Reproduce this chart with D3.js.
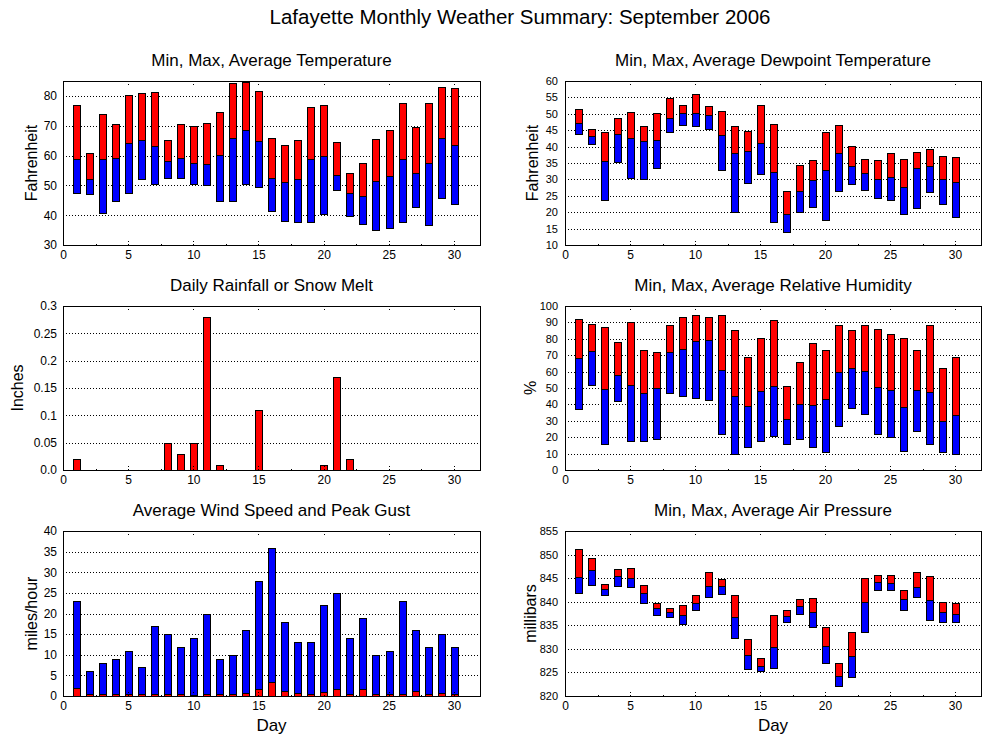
<!DOCTYPE html>
<html>
<head>
<meta charset="utf-8">
<script src="https://cdn.jsdelivr.net/npm/d3@7"></script>
<style>
  body { margin: 0; background: #fff; }
  text { font-family: "Liberation Sans", Arial, sans-serif; fill: #000; }
</style>
</head>
<body>
<svg width="1000" height="750"></svg>
<script>
const days = [1,2,3,4,5,6,7,8,9,10,11,12,13,14,15,16,17,18,19,20,21,22,23,24,25,26,27,28,29,30];
const xTicks = [0,5,10,15,20,25,30];

const tempMax = [77,60.7,74,70.7,80.4,81,81.4,65.3,70.7,70,71,74.7,84.4,84.7,81.7,66,63.7,65.3,76.4,77,64.7,54.3,57.6,65.7,68.4,77.7,69.7,77.7,83,82.7];
const tempAvg = [59,52.3,59,59.3,64.3,65.1,63.3,58.3,59.3,57.6,57.3,60.3,66,68.4,65,52.6,51,52.3,58.7,59.7,53.6,47.3,46.3,51.3,53,59,54.3,57.6,66,63.7];
const tempMin = [47.3,47,40.6,44.6,47.6,52.3,50.3,52.6,52.6,50.3,50,44.6,44.9,50.3,49.6,41.3,38.2,37.6,37.6,40.3,48.6,39.6,36.9,34.9,35.6,37.6,42.6,36.6,45.9,43.6];

const dewMax = [51.6,45.5,44.3,48.8,50.4,46.4,50.1,54.9,52.8,56.1,52.5,51,46.4,44.9,52.8,47,26.6,34.5,35.8,44.6,46.7,40.3,36.1,35.8,38.2,36.1,38.5,39.4,37,36.7];
const dewAvg = [47.3,43.1,35.5,43.7,42.5,41.8,42.1,48.8,50.1,50.1,49.5,43.4,37.9,38.8,41.2,32.4,19.6,26.6,29.7,33,37.9,34.2,31.8,30,30.6,27.8,33.6,34.2,30,29.1];
const dewMin = [43.7,40.9,23.6,35.2,30.3,30,33.6,44.3,46.7,46.4,45.5,33,20.2,28.8,31.5,16.9,13.9,20.2,21.5,17.5,26.6,28.5,26.9,24.2,23.6,19.3,21.2,26.3,22.4,18.4];

const rain = [0.02,0,0,0,0,0,0,0.05,0.03,0.05,0.28,0.01,0,0,0.11,0,0,0,0,0.01,0.17,0.02,0,0,0,0,0,0,0,0];
const rainTicks = [0,0.05,0.1,0.15,0.2,0.25,0.3];
const rainTickLabels = ["0.0","0.05","0.1","0.15","0.2","0.25","0.3"];

const humMax = [91.9,88.8,87,77.8,90,73,71.7,88.2,93.1,94.3,93.1,94.3,85.2,68.7,80.3,91.3,51,65.7,77.2,73,88.2,85.2,88.2,85.8,82.7,80.3,73,88.2,62,68.7];
const humAvg = [68.1,72.4,49.2,57.7,51.6,46.7,49.8,71.7,73.6,78.5,79.1,60.8,44.9,38.8,48,51,30.9,40,39.4,43.1,59.6,62,60.2,50.4,48.6,38.2,48.6,47.4,29.7,33.3];
const humMin = [37,51.6,15.7,41.9,17.5,17.5,18.7,46.7,44.9,43.7,42.5,21.7,9.6,13.8,17.5,20.5,15.7,18.7,13.8,10.8,26.6,37.6,33.9,21.7,19.9,11.4,23.6,15.7,10.8,9.6];

const windGust = [23,6,8,9,11,7,17,15,12,14,20,9,10,16,28,36,18,13,13,22,25,14,19,10,11,23,16,12,15,12];
const windAvg = [1.9,0.4,0.4,0.6,0.4,0.4,0.6,0.4,0.4,0.2,0.6,0.4,0.4,0.8,1.6,3.5,1.3,0.8,0.6,1,1.6,0.4,1.8,0.6,0.6,0.6,1.3,0.4,0.8,0.4];

const presMax = [851.1,849.2,843.7,846.9,847.1,843.5,839.7,838.6,839.2,841.4,846.4,844.8,841.4,832,828,837.1,838.2,840.5,840.7,834.6,826.9,833.5,845,845.6,845.6,842.4,846.4,845.4,839.9,839.7];
const presAvg = [845.2,846.7,842.8,845.4,845,841.8,838.6,837.8,837.1,839.7,843.3,843.3,836.7,828.6,826.3,830.3,836.9,839,837.8,830.7,824.2,828.4,839.9,844.1,843.9,840.5,843.1,840.3,837.8,837.5];
const presMin = [841.8,843.5,841.4,843.3,843.1,839.7,837.1,836.7,835.2,838.2,841.1,841.6,832.2,825.7,825.2,825.9,835.6,837.5,834.6,827.1,822.1,824,833.5,842.4,842.4,838.2,841.1,836.1,835.8,835.6];

const svg = d3.select("svg");

svg.append("text")
  .attr("x", 520).attr("y", 24)
  .attr("text-anchor", "middle")
  .attr("font-size", 20.5)
  .text("Lafayette Monthly Weather Summary: September 2006");

const cols = [[63, 480], [565, 981]];
const rows = [[81, 245], [306, 470], [531, 696]];

function panel(opt) {
  const [x0, x1] = cols[opt.col];
  const [y0, y1] = rows[opt.row];
  const g = svg.append("g");

  const x = d3.scaleLinear().domain([0, 32]).range([x0, x1]);
  const y = d3.scaleLinear().domain(opt.domain).range([y1, y0]);
  const bw = x(0.5) - x(0);

  // title
  g.append("text")
    .attr("x", (x0 + x1) / 2).attr("y", y0 - 15)
    .attr("text-anchor", "middle")
    .attr("font-size", 17)
    .text(opt.title);

  // y grid
  g.selectAll(".grid")
    .data(opt.yTicks.filter(t => t > opt.domain[0] && t < opt.domain[1]))
    .enter().append("line")
    .attr("x1", x0).attr("x2", x1)
    .attr("y1", d => Math.round(y(d)) + 0.5).attr("y2", d => Math.round(y(d)) + 0.5)
    .attr("stroke", "#000")
    .attr("stroke-dasharray", "1,2");

  // bars
  opt.bars(g, x, y, bw);

  // x ticks (dotted, inside frame, top and bottom)
  const minor = [2.5,7.5,12.5,17.5,22.5,27.5];
  [[xTicks, 6], [minor, 2]].forEach(([ticks, len]) => {
    ticks.forEach(t => {
      const px = Math.round(x(t)) + 0.5;
      g.append("line").attr("x1", px).attr("x2", px).attr("y1", y1).attr("y2", y1 - len)
        .attr("stroke", "#000").attr("stroke-dasharray", "1,2");
      g.append("line").attr("x1", px).attr("x2", px).attr("y1", y0).attr("y2", y0 + len)
        .attr("stroke", "#000").attr("stroke-dasharray", "1,2");
    });
  });

  // frame
  g.append("rect")
    .attr("x", x0 + 0.5).attr("y", y0 + 0.5)
    .attr("width", x1 - x0).attr("height", y1 - y0)
    .attr("fill", "none").attr("stroke", "#000");

  // x tick labels
  const xAxis = g.append("g").attr("transform", `translate(0,${y1})`)
    .call(d3.axisBottom(x).tickValues(xTicks).tickSize(0).tickPadding(5));
  xAxis.select(".domain").remove();
  xAxis.selectAll("text").attr("font-size", 12).attr("font-family", null);

  // y tick labels
  const yAxis = g.append("g").attr("transform", `translate(${x0},0)`)
    .call(d3.axisLeft(y).tickValues(opt.yTicks).tickSize(0).tickPadding(opt.col ? 7 : 6)
      .tickFormat((d, i) => opt.yLabels ? opt.yLabels[i] : d));
  yAxis.select(".domain").remove();
  yAxis.selectAll("text").attr("font-size", opt.col ? 11 : 12).attr("font-family", null);

  // y label
  g.append("text")
    .attr("transform", `translate(${opt.ylabX},${(y0 + y1) / 2}) rotate(-90)`)
    .attr("text-anchor", "middle")
    .attr("dy", "0.35em")
    .attr("font-size", 16)
    .text(opt.ylabel);

  if (opt.row === 2) {
    g.append("text")
      .attr("x", (x0 + x1) / 2).attr("y", 731)
      .attr("text-anchor", "middle")
      .attr("font-size", 17)
      .text("Day");
  }
}

function rangeBars(maxArr, avgArr, minArr) {
  return (g, x, y, bw) => {
    g.selectAll(".hi").data(days).enter().append("rect")
      .attr("x", d => Math.round(x(d) - bw / 2) + 0.5)
      .attr("width", Math.round(bw))
      .attr("y", (d, i) => Math.round(y(maxArr[i])) + 0.5)
      .attr("height", (d, i) => Math.round(y(avgArr[i])) - Math.round(y(maxArr[i])))
      .attr("fill", "#ff0000").attr("stroke", "#000");
    g.selectAll(".lo").data(days).enter().append("rect")
      .attr("x", d => Math.round(x(d) - bw / 2) + 0.5)
      .attr("width", Math.round(bw))
      .attr("y", (d, i) => Math.round(y(avgArr[i])) + 0.5)
      .attr("height", (d, i) => Math.round(y(minArr[i])) - Math.round(y(avgArr[i])))
      .attr("fill", "#0000ff").attr("stroke", "#000");
  };
}

function zeroBars(arr, color, g, x, y, bw) {
  g.selectAll(null).data(days.filter((d, i) => arr[i] > 0)).enter().append("rect")
    .attr("x", d => Math.round(x(d) - bw / 2) + 0.5)
    .attr("width", Math.round(bw))
    .attr("y", d => Math.round(y(arr[d - 1])) + 0.5)
    .attr("height", d => Math.round(y(0)) - Math.round(y(arr[d - 1])))
    .attr("fill", color).attr("stroke", "#000");
}

panel({
  col: 0, row: 0, domain: [30, 85], yTicks: [30,40,50,60,70,80],
  title: "Min, Max, Average Temperature", ylabel: "Fahrenheit", ylabX: 31,
  bars: rangeBars(tempMax, tempAvg, tempMin)
});

panel({
  col: 1, row: 0, domain: [10, 60], yTicks: [10,15,20,25,30,35,40,45,50,55,60],
  title: "Min, Max, Average Dewpoint Temperature", ylabel: "Fahrenheit", ylabX: 532,
  bars: rangeBars(dewMax, dewAvg, dewMin)
});

panel({
  col: 0, row: 1, domain: [0, 0.3], yTicks: rainTicks, yLabels: rainTickLabels,
  title: "Daily Rainfall or Snow Melt", ylabel: "Inches", ylabX: 17,
  bars: (g, x, y, bw) => zeroBars(rain, "#ff0000", g, x, y, bw)
});

panel({
  col: 1, row: 1, domain: [0, 100], yTicks: [0,10,20,30,40,50,60,70,80,90,100],
  title: "Min, Max, Average Relative Humidity", ylabel: "%", ylabX: 530,
  bars: rangeBars(humMax, humAvg, humMin)
});

panel({
  col: 0, row: 2, domain: [0, 40], yTicks: [0,5,10,15,20,25,30,35,40],
  title: "Average Wind Speed and Peak Gust", ylabel: "miles/hour", ylabX: 31,
  bars: (g, x, y, bw) => {
    zeroBars(windGust, "#0000ff", g, x, y, bw);
    zeroBars(windAvg, "#ff0000", g, x, y, bw);
  }
});

panel({
  col: 1, row: 2, domain: [820, 855], yTicks: [820,825,830,835,840,845,850,855],
  title: "Min, Max, Average Air Pressure", ylabel: "millibars", ylabX: 530,
  bars: rangeBars(presMax, presAvg, presMin)
});
</script>
</body>
</html>
